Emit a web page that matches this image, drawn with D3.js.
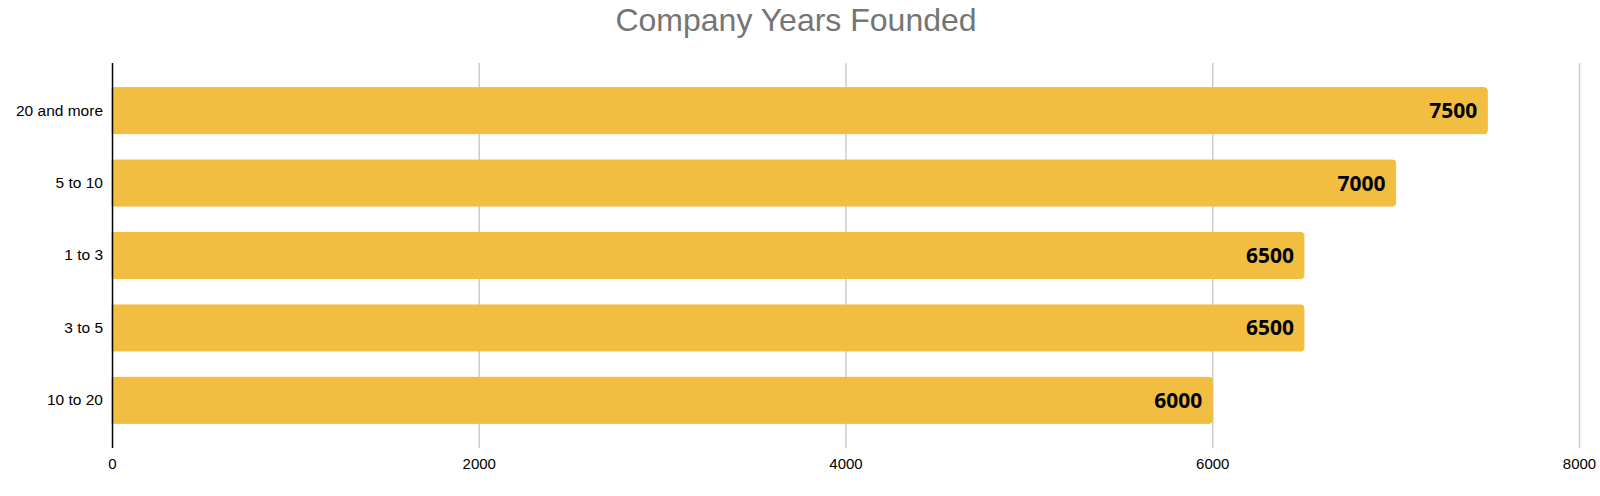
<!DOCTYPE html>
<html>
<head>
<meta charset="utf-8">
<script src="https://cdn.jsdelivr.net/npm/d3@7"></script>
<style>
  body { margin: 0; background: #fff; }
  svg { display: block; }
</style>
</head>
<body>
<svg id="chart" width="1600" height="496"></svg>
<script>
// data
var categories = ["20 and more", "5 to 10", "1 to 3", "3 to 5", "10 to 20"];
var counts = [7500, 7000, 6500, 6500, 6000];
var xTicks = [0, 2000, 4000, 6000, 8000];

var margin = {top: 63, bottom: 48, left: 112, right: 21};
var width = 1600, height = 496;

var svg = d3.select("#chart");

var rows = categories.map((c, i) => ({name: c, value: counts[i]}));

var x = d3.scaleLinear()
    .domain([0, 8000])
    .range([margin.left, width - margin.right]);

var y = d3.scaleBand()
    .domain(categories)
    .range([margin.top, height - margin.bottom])
    .paddingInner(0.365)
    .paddingOuter(0.34);

/* title */
svg.append("text")
    .attr("x", 796)
    .attr("y", 31)
    .attr("text-anchor", "middle")
    .style("font-family", "Liberation Sans, Arial, sans-serif")
    .style("font-size", "32px")
    .style("fill", "#757575")
    .text("Company Years Founded");

/* vertical gridlines */
svg.append("g")
    .selectAll("line")
    .data(xTicks.slice(1))
    .join("line")
    .attr("x1", d => x(d) + 0.5)
    .attr("x2", d => x(d) + 0.5)
    .attr("y1", margin.top)
    .attr("y2", height - margin.bottom)
    .attr("stroke", "#cccccc")
    .attr("stroke-width", 1.5);

/* bars */
svg.append("g")
    .selectAll("path")
    .data(rows)
    .join("path")
    .attr("d", d => {
        var x0 = x(0), x1 = x(d.value), y0 = y(d.name), h = y.bandwidth(), r = 3;
        return "M" + x0 + "," + y0 +
            "H" + (x1 - r) +
            "Q" + x1 + "," + y0 + " " + x1 + "," + (y0 + r) +
            "V" + (y0 + h - r) +
            "Q" + x1 + "," + (y0 + h) + " " + (x1 - r) + "," + (y0 + h) +
            "H" + x0 + "Z";
    })
    .attr("fill", "#f1be42")
    .attr("stroke", "#f3bd3a")
    .attr("stroke-width", 1);

/* value labels inside the bar end */
svg.append("g")
    .selectAll("text")
    .data(rows)
    .join("text")
    .attr("x", d => x(d.value) - 10)
    .attr("y", d => y(d.name) + y.bandwidth() / 2)
    .attr("dy", "0.36em")
    .attr("text-anchor", "end")
    .style("font-family", "Noto Sans, sans-serif")
    .style("font-weight", "700")
    .style("font-size", "21px")
    .style("fill", "#000")
    .text(d => d.value);

/* y axis: categories */
var yAxis = svg.append("g")
    .attr("transform", "translate(" + margin.left + ",0)")
    .call(d3.axisLeft(y).tickSize(0).tickPadding(9));
yAxis.select(".domain").remove();
yAxis.selectAll("text")
    .style("font-family", "Liberation Sans, Arial, sans-serif")
    .style("font-size", "15.5px")
    .style("fill", "#000");

/* baseline at zero */
svg.append("line")
    .attr("x1", x(0) + 0.5)
    .attr("x2", x(0) + 0.5)
    .attr("y1", margin.top)
    .attr("y2", height - margin.bottom)
    .attr("stroke", "#000")
    .attr("stroke-width", 1.5);

/* x axis labels */
var xAxis = svg.append("g")
    .attr("transform", "translate(0," + (height - margin.bottom) + ")")
    .call(d3.axisBottom(x).tickValues(xTicks).tickSize(0).tickPadding(10).tickFormat(d => d.toString()));
xAxis.select(".domain").remove();
xAxis.selectAll("text")
    .style("font-family", "Liberation Sans, Arial, sans-serif")
    .style("font-size", "15px")
    .style("fill", "#000");
</script>
</body>
</html>
